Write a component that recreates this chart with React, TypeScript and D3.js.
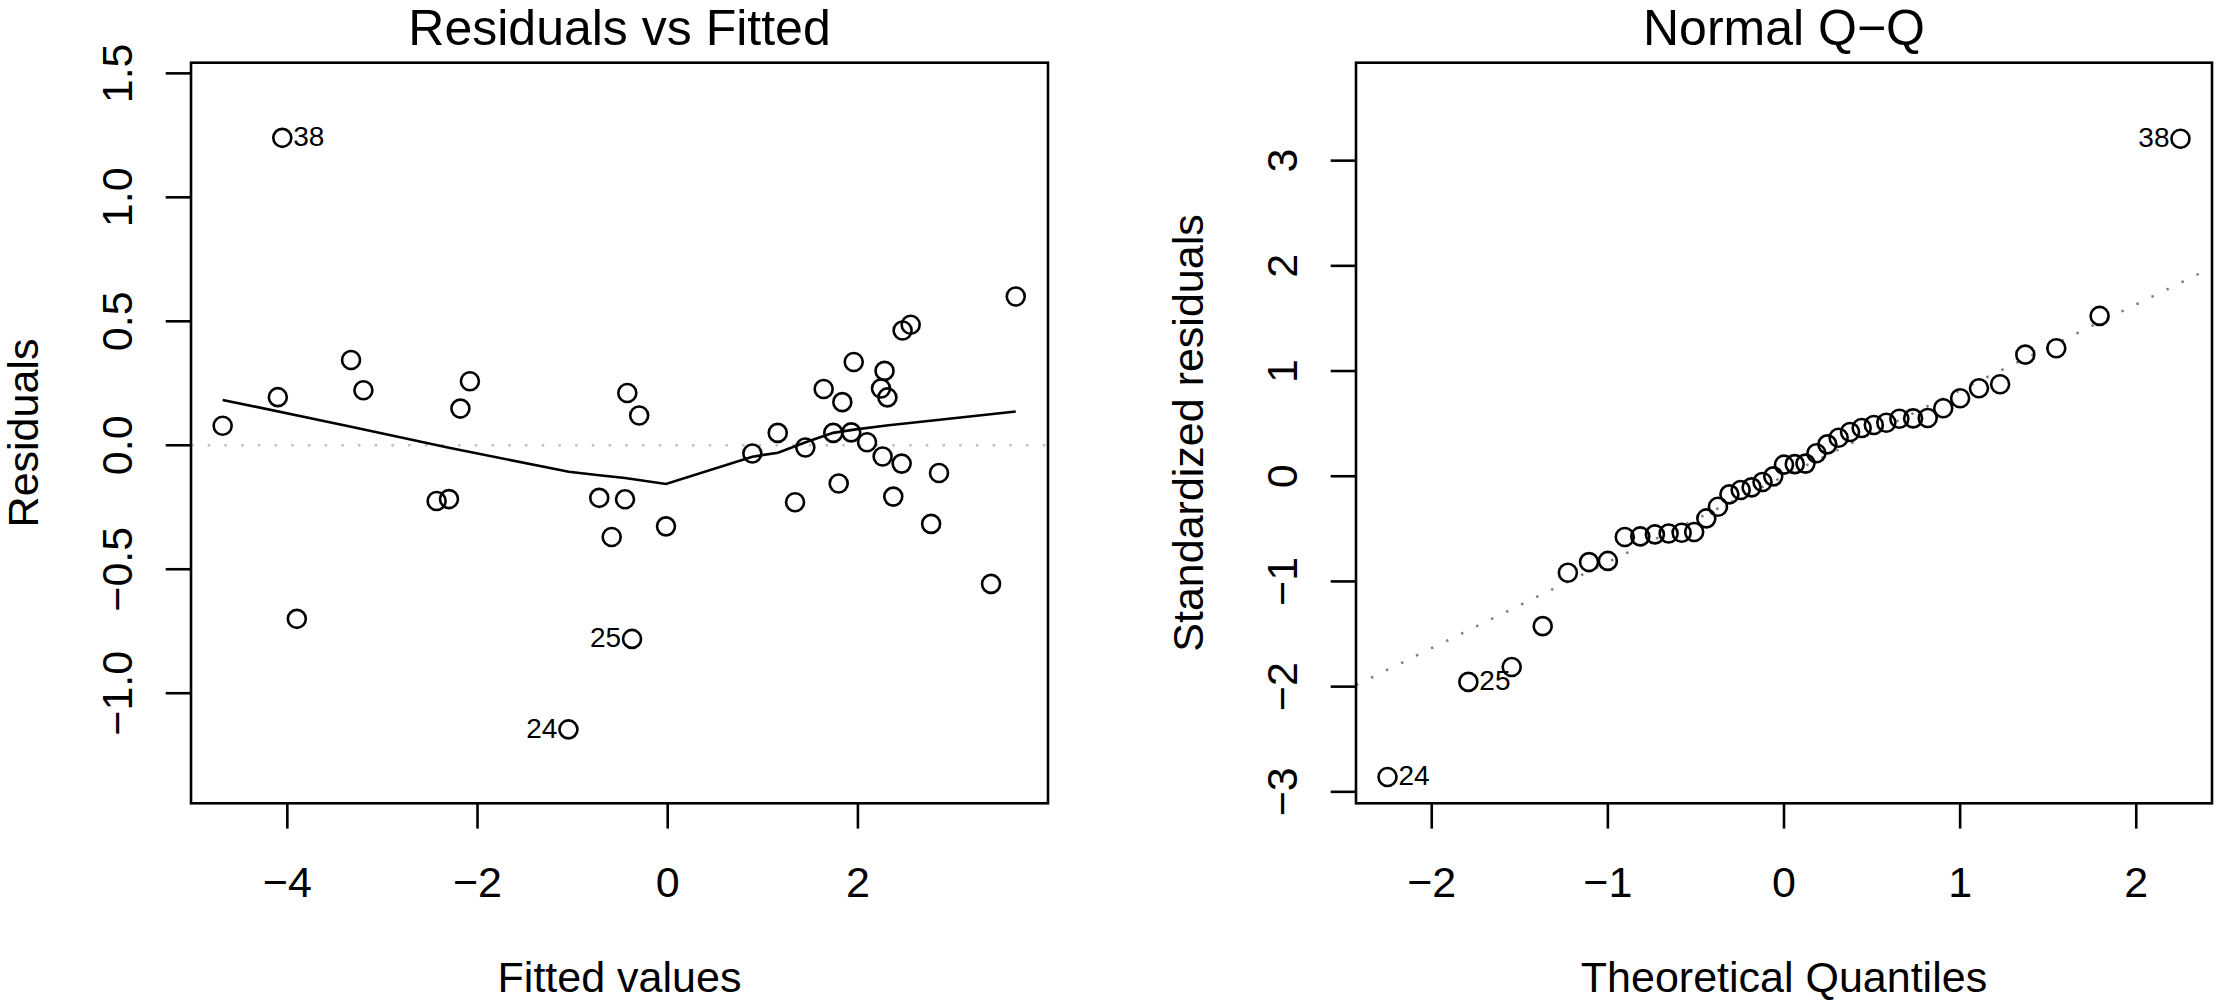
import * as d3 from 'd3'

// Residuals vs Fitted: fitted value and raw residual for each observation
const fitted = [
  -4.68, -4.10, -4.053, -3.90, -3.33, -3.20, -2.43, -2.30, -2.18, -2.08,
  -1.044, -0.72, -0.589, -0.449, -0.425, -0.375, -0.30, -0.018, 0.89, 1.157,
  1.339, 1.447, 1.64, 1.741, 1.798, 1.836, 1.93, 1.956, 2.096, 2.243,
  2.26, 2.28, 2.31, 2.372, 2.46, 2.47, 2.555, 2.77, 2.853, 3.40, 3.66,
]
const residuals = [
  0.079, 0.194, 1.24, -0.70, 0.344, 0.222, -0.225, -0.217, 0.148, 0.258,
  -1.146, -0.212, -0.37, -0.218, 0.211, -0.781, 0.12, -0.327, -0.033, 0.05,
  -0.23, -0.009, 0.227, 0.05, -0.154, 0.174, 0.052, 0.336, 0.012, 0.229,
  -0.045, 0.30, 0.193, -0.207, -0.074, 0.463, 0.486, -0.317, -0.112, -0.559, 0.60,
]
// lowess smoother as drawn
const smoothX = [-4.68, -3.33, -2.30, -1.04, -0.72, -0.45, -0.018, 0.89, 1.16, 1.45, 1.74, 1.96, 2.30, 2.86, 3.66]
const smoothY = [0.183, 0.075, -0.01, -0.107, -0.121, -0.132, -0.156, -0.046, -0.030, 0.012, 0.05, 0.063, 0.08, 0.103, 0.136]

// Normal Q-Q: theoretical quantiles and sorted standardized residuals
const theoretical = [
  -2.251, -1.792, -1.546, -1.370, -1.227, -1.107, -1.000, -0.904, -0.816, -0.733,
  -0.655, -0.581, -0.510, -0.441, -0.375, -0.310, -0.246, -0.184, -0.122, -0.061,
  0, 0.061, 0.122, 0.184, 0.246, 0.310, 0.375, 0.441, 0.510, 0.581,
  0.655, 0.733, 0.816, 0.904, 1.000, 1.107, 1.227, 1.370, 1.546, 1.792, 2.251,
]
const standardized = [
  -2.859, -1.955, -1.813, -1.425, -0.918, -0.816, -0.805, -0.578, -0.572, -0.553,
  -0.544, -0.537, -0.530, -0.401, -0.290, -0.172, -0.131, -0.106, -0.055, -0.001,
  0.11, 0.115, 0.12, 0.218, 0.303, 0.366, 0.42, 0.459, 0.487, 0.509,
  0.547, 0.550, 0.553, 0.646, 0.741, 0.836, 0.874, 1.156, 1.217, 1.524, 3.208,
]
const qqSlope = 0.817
const qqIntercept = 0

// labelled observations
const residLabelIdx = [2, 15, 10]
const residLabelText = ['38', '25', '24']
const residLabelSide = [1, -1, -1]
const qqLabelIdx = [40, 1, 0]
const qqLabelText = ['38', '25', '24']
const qqLabelSide = [-1, 1, 1]

const leftXTicks = [-4, -2, 0, 2]
const leftYTicks = [-1.0, -0.5, 0.0, 0.5, 1.0, 1.5]
const rightXTicks = [-2, -1, 0, 1, 2]
const rightYTicks = [-3, -2, -1, 0, 1, 2, 3]

const W = 2217
const H = 1008
const TOP = 62.7
const BOTTOM = 803.3
const FONT = '"Liberation Sans", Arial, Helvetica, sans-serif'
const AXIS_FS = 43
const TITLE_FS = 50
const ID_FS = 28
const R = 9
const LW = 2.6

const fmtMinus = (s: string) => s.replace('-', '\u2212')

function Panel(props: {
  left: number
  right: number
  xDomain: [number, number]
  yDomain: [number, number]
  xTicks: number[]
  yTicks: number[]
  yFmt: (v: number) => string
  title: string
  xLabel: string
  yLabel: string
  xs: number[]
  ys: number[]
  labelIdx: number[]
  labelText: string[]
  labelSide: number[]
  clipId: string
  children?: (x: d3.ScaleLinear<number, number>, y: d3.ScaleLinear<number, number>) => any
}) {
  const { left, right } = props
  const x = d3.scaleLinear().domain(props.xDomain).range([left, right])
  const y = d3.scaleLinear().domain(props.yDomain).range([BOTTOM, TOP])
  const cx = (left + right) / 2
  const cy = (TOP + BOTTOM) / 2
  return (
    <g>
      <defs>
        <clipPath id={props.clipId}>
          <rect x={left} y={TOP} width={right - left} height={BOTTOM - TOP} />
        </clipPath>
      </defs>
      <g clipPath={`url(#${props.clipId})`}>{props.children && props.children(x, y)}</g>
      {props.xs.map((v, i) => (
        <circle key={i} cx={x(v)} cy={y(props.ys[i])} r={R} fill="none" stroke="#000" strokeWidth={LW} />
      ))}
      {props.labelIdx.map((idx, k) => {
        const side = props.labelSide[k]
        return (
          <text
            key={k}
            x={x(props.xs[idx]) + side * (R + 2)}
            y={y(props.ys[idx]) + ID_FS * 0.3}
            fontSize={ID_FS}
            textAnchor={side > 0 ? 'start' : 'end'}
          >
            {props.labelText[k]}
          </text>
        )
      })}
      <rect x={left} y={TOP} width={right - left} height={BOTTOM - TOP} fill="none" stroke="#000" strokeWidth={LW} />
      {props.xTicks.map((t) => (
        <g key={t}>
          <line x1={x(t)} x2={x(t)} y1={BOTTOM} y2={BOTTOM + 25.3} stroke="#000" strokeWidth={LW} />
          <text x={x(t)} y={897} textAnchor="middle" fontSize={AXIS_FS}>
            {fmtMinus(String(t))}
          </text>
        </g>
      ))}
      {props.yTicks.map((t) => (
        <g key={t}>
          <line x1={left - 25.3} x2={left} y1={y(t)} y2={y(t)} stroke="#000" strokeWidth={LW} />
          <text
            transform={`translate(${left - 59},${y(t)}) rotate(-90)`}
            textAnchor="middle"
            fontSize={AXIS_FS}
          >
            {fmtMinus(props.yFmt(t))}
          </text>
        </g>
      ))}
      <text x={cx} y={45} textAnchor="middle" fontSize={TITLE_FS}>
        {props.title}
      </text>
      <text x={cx} y={992} textAnchor="middle" fontSize={AXIS_FS}>
        {props.xLabel}
      </text>
      <text transform={`translate(${left - 153},${cy}) rotate(-90)`} textAnchor="middle" fontSize={AXIS_FS}>
        {props.yLabel}
      </text>
    </g>
  )
}

export default function App() {
  return (
    <svg
      width={W}
      height={H}
      style={{ position: 'absolute', left: 0, top: 0, background: '#fff' }}
      fontFamily={FONT}
    >
      <rect width={W} height={H} fill="#fff" />
      <Panel
        left={191}
        right={1048}
        xDomain={[-5.013, 3.999]}
        yDomain={[-1.444, 1.543]}
        xTicks={leftXTicks}
        yTicks={leftYTicks}
        yFmt={(v) => v.toFixed(1)}
        title="Residuals vs Fitted"
        xLabel="Fitted values"
        yLabel="Residuals"
        xs={fitted}
        ys={residuals}
        labelIdx={residLabelIdx}
        labelText={residLabelText}
        labelSide={residLabelSide}
        clipId="clipL"
      >
        {(x, y) => (
          <g>
            <line x1={191} x2={1048} y1={y(0)} y2={y(0)} stroke="#bebebe" strokeWidth={2.5} strokeDasharray="2.5 14.2" />
            <path
              d={
                d3
                  .line<number>()
                  .x((v) => x(v))
                  .y((_, i) => y(smoothY[i]))(smoothX) || ''
              }
              fill="none"
              stroke="#000"
              strokeWidth={LW}
            />
          </g>
        )}
      </Panel>
      <Panel
        left={1356}
        right={2212}
        xDomain={[-2.43, 2.43]}
        yDomain={[-3.109, 3.931]}
        xTicks={rightXTicks}
        yTicks={rightYTicks}
        yFmt={(v) => String(v)}
        title={'Normal Q\u2212Q'}
        xLabel="Theoretical Quantiles"
        yLabel="Standardized residuals"
        xs={theoretical}
        ys={standardized}
        labelIdx={qqLabelIdx}
        labelText={qqLabelText}
        labelSide={qqLabelSide}
        clipId="clipR"
      >
        {(x, y) => {
          const xd = x.domain()
          return (
            <line
              x1={x(xd[0])}
              x2={x(xd[1])}
              y1={y(qqIntercept + qqSlope * xd[0])}
              y2={y(qqIntercept + qqSlope * xd[1])}
              stroke="#7f7f7f"
              strokeWidth={2.5}
              strokeDasharray="2.5 14.2"
            />
          )
        }}
      </Panel>
    </svg>
  )
}
